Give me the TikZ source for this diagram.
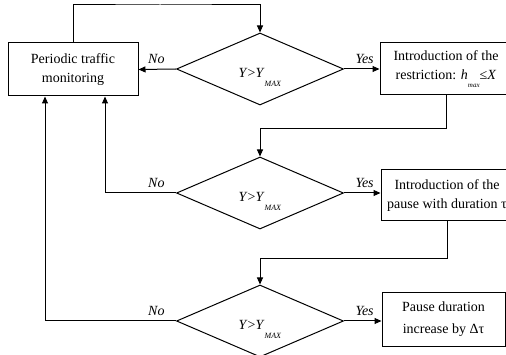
\documentclass[tikz,border=0pt]{standalone}
\usepackage{fontspec}
\setmainfont{Liberation Serif}
\usetikzlibrary{shapes.geometric,arrows.meta}

\newcommand{\ycond}{\textit{Y}>\textit{Y}\raisebox{-9pt}{\fontsize{8}{8}\selectfont\textit{MAX}}}
\newcommand{\hmax}{\textit{h}\raisebox{-8pt}{\fontsize{7}{8}\selectfont\textit{max}}≤\textit{X}}

\tikzset{
  blockbox/.style={draw, line width=1pt, align=center, inner sep=2pt},
  decision/.style={diamond, draw, line width=1pt, minimum width=167pt,
    minimum height=72pt, inner sep=0pt},
  flow/.style={line width=1pt, -{Triangle[length=7pt,width=6pt]}},
  answer/.style={font=\fontsize{14}{16}\selectfont\itshape, inner sep=2pt,
    yshift=3pt}
}

\begin{document}
\begin{tikzpicture}[x=1pt, y=-1pt, font=\fontsize{14}{19}\selectfont]
\clip (0,0) rectangle (506,355);
% Blocks of the algorithm.
\node[blockbox, minimum width=130pt, minimum height=53pt] (monitor)
  at (73,69.5) {Periodic traffic\\monitoring};
\node[blockbox, minimum width=132pt, minimum height=52pt] (restrict)
  at (446,69) {Introduction of the\\restriction: \hmax};
\node[blockbox, minimum width=132pt, minimum height=51pt] (pause)
  at (447,195.5) {Introduction of the\\pause with duration τ};
\node[blockbox, minimum width=123pt, minimum height=53pt] (increase)
  at (443.5,319.5) {Pause duration\\[3pt]increase by Δτ};
% Decisions.
\node[decision, label={[yshift=-8pt]center:\ycond}] (check1) at (260,69) {};
\node[decision, label={[yshift=-8pt]center:\ycond}] (check2) at (260,193) {};
\node[decision, label={[yshift=-8pt]center:\ycond}] (check3) at (260,321) {};
% Loop from the monitoring block to the first check.
\coordinate (loop) at (160,5);
\draw[flow] (monitor.north) |- (loop) -| (check1.north);
% First check.
\draw[flow] (check1.west) --
  node[answer, pos=0, anchor=south east, xshift=-9pt] {No} (monitor.east);
\draw[flow] (check1.east) --
  node[answer, pos=0, anchor=south west, xshift=9pt] {Yes}
  (check1.east -| restrict.west);
\draw[flow] (restrict.south) -- ++(0,33) -| (check2.north);
% Second check.
\draw[flow] (check2.west) -|
  node[answer, pos=0, anchor=south east, xshift=-9pt] {No}
  ([xshift=32pt]monitor.south);
\draw[flow] (check2.east) --
  node[answer, pos=0, anchor=south west, xshift=9pt] {Yes}
  (check2.east -| pause.west);
\draw[flow] (pause.south) -- ++(0,37) -| (check3.north);
% Third check.
\draw[flow] (check3.west) -|
  node[answer, pos=0, anchor=south east, xshift=-9pt] {No}
  ([xshift=-28pt]monitor.south);
\draw[flow] (check3.east) --
  node[answer, pos=0, anchor=south west, xshift=9pt] {Yes}
  (check3.east -| increase.west);
\end{tikzpicture}
\end{document}
